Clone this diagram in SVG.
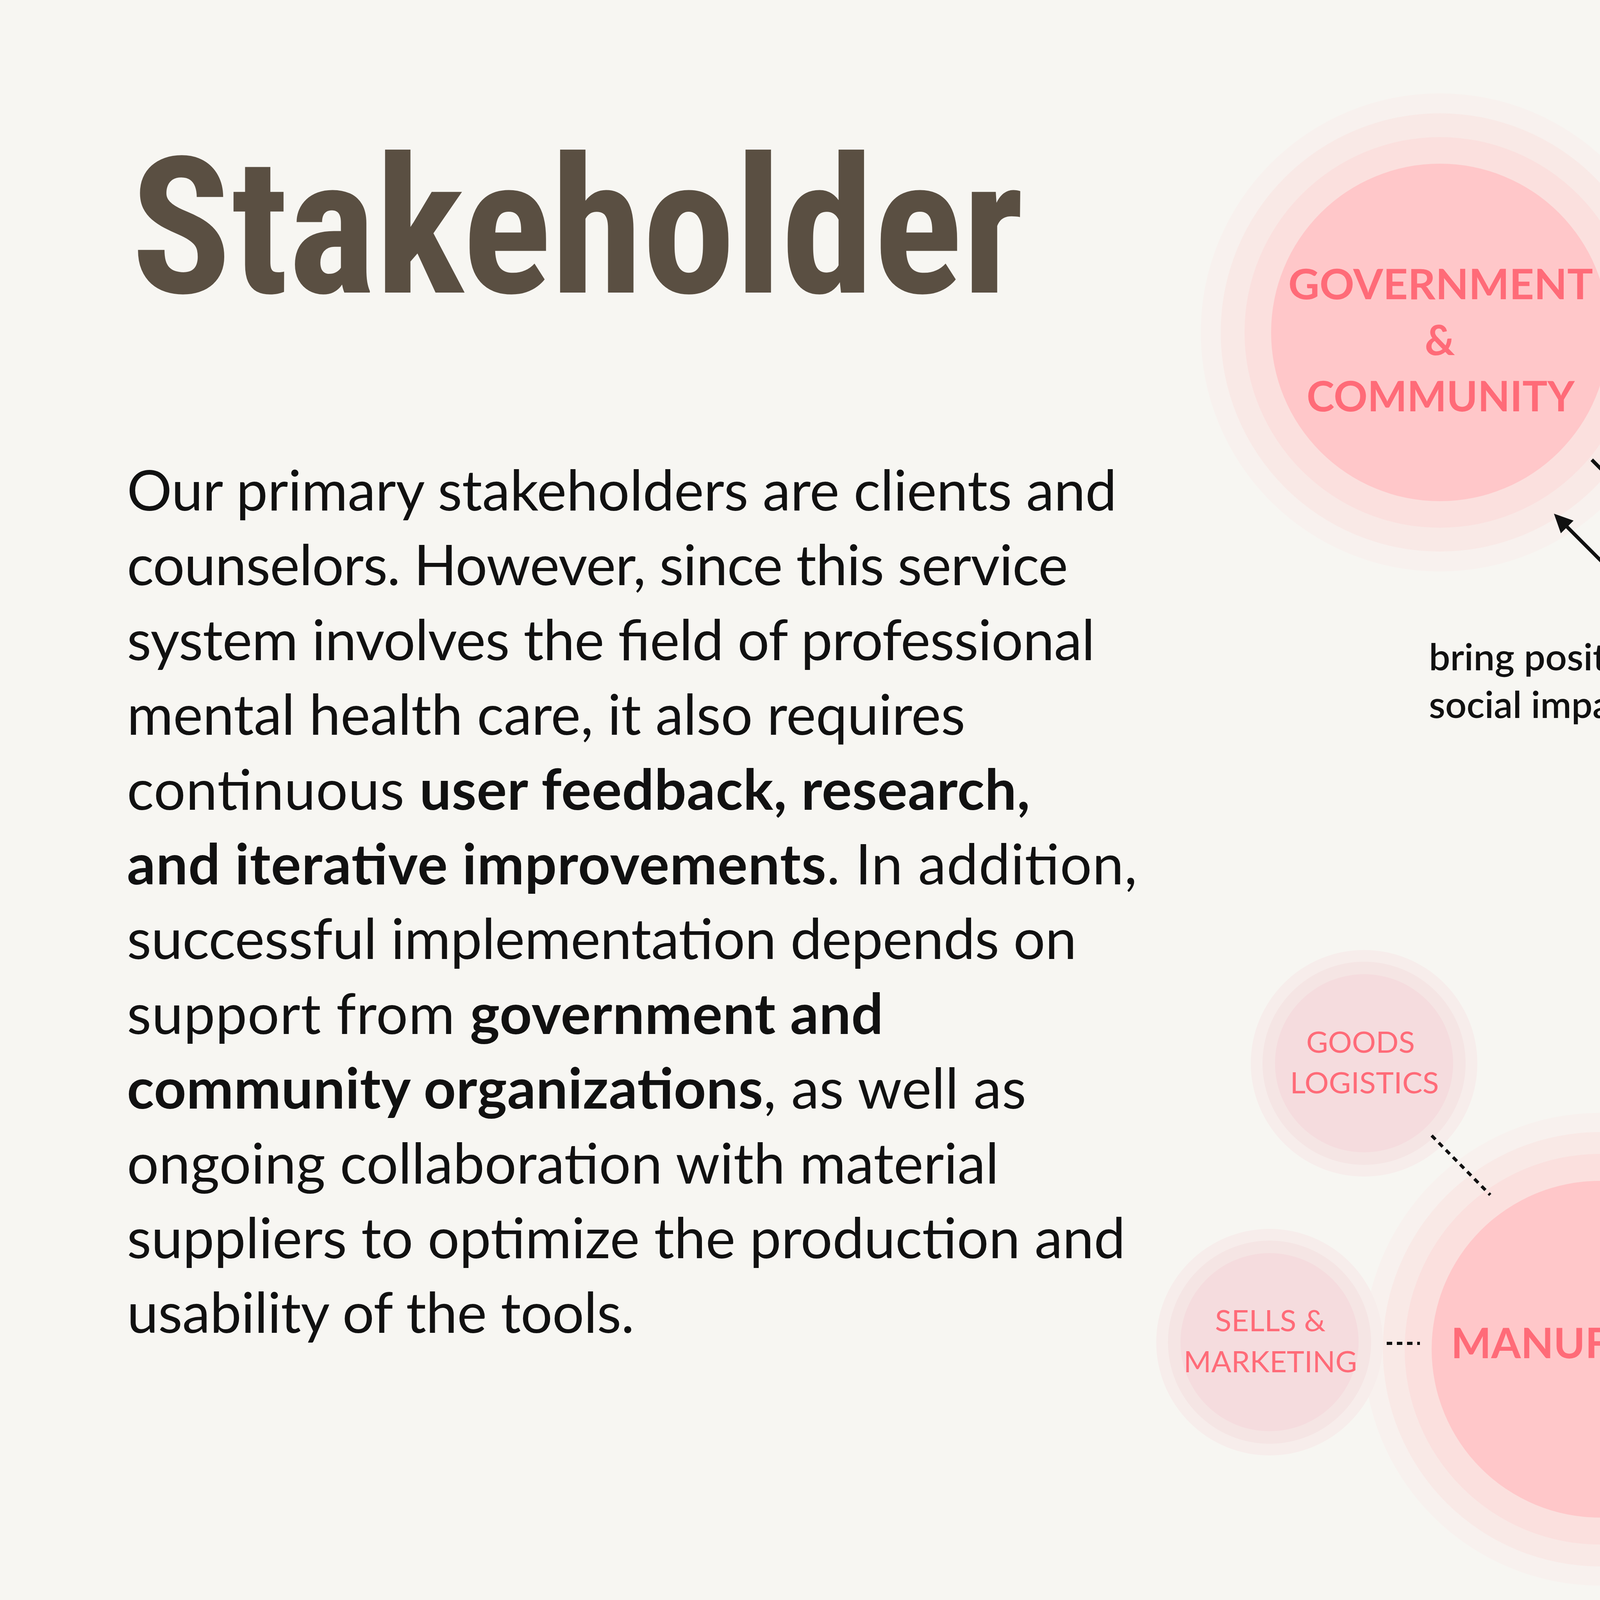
<svg xmlns="http://www.w3.org/2000/svg" width="7680" height="4320" viewBox="0 0 7680 4320">
<style>
.title{font-family:"Roboto Condensed","Roboto","Liberation Sans Narrow",sans-serif;font-weight:700;font-size:488px;fill:#5a4f42}
.body{font-family:Lato,"Noto Sans",sans-serif;font-size:144px;fill:#111111}
.body .b{font-weight:700}
.nl{font-family:Lato,"Noto Sans",sans-serif;font-weight:700;fill:#ff6b78;text-anchor:middle}
.nw{font-family:Lato,"Noto Sans",sans-serif;font-weight:700;fill:#ffffff;text-anchor:middle}
.ns{font-family:Lato,"Noto Sans",sans-serif;font-weight:400;fill:#ff6b78;text-anchor:middle;font-size:75px}
.cl{font-family:Lato,"Noto Sans",sans-serif;font-weight:600;font-size:94px;fill:#111111}
.r4{fill:#f8f1ee}.r3{fill:#f9e9e6}.r2{fill:#fbe0de}.r1{fill:#ffc7c9}
.s3{fill:#f7edeb}.s2{fill:#f5e5e4}.s1{fill:#f5dcde}
.g{fill:#ff6b78}
.conn{stroke:#111111;stroke-width:9;fill:none;marker-end:url(#ah)}
.dot{stroke:#111111;stroke-width:8;fill:none;stroke-dasharray:14 12}
</style>
<defs>
<marker id="ah" markerUnits="userSpaceOnUse" markerWidth="90" markerHeight="90" viewBox="-70 -35 90 70" refX="-14" refY="0" orient="auto">
<path d="M0,0 L-48,-23 L-48,23 Z" fill="#111111"/>
</marker>
<filter id="soft" x="-10%" y="-10%" width="120%" height="120%"><feGaussianBlur stdDeviation="6"/></filter>
</defs>
<rect x="0" y="0" width="7680" height="4320" fill="#f7f6f2"/>

<g id="title"><text class="title" x="336" y="749" textLength="2285" lengthAdjust="spacingAndGlyphs">Stakeholder</text></g>

<g id="description" class="body">
<text x="325" y="1307" textLength="2534" lengthAdjust="spacing">Our primary stakeholders are clients and</text>
<text x="325" y="1498" textLength="2409" lengthAdjust="spacing">counselors. However, since this service</text>
<text x="325" y="1690" textLength="2478" lengthAdjust="spacing">system involves the field of professional</text>
<text x="325" y="1881" textLength="2146" lengthAdjust="spacing">mental health care, it also requires</text>
<text x="325" y="2073" textLength="2312" lengthAdjust="spacing">continuous <tspan class="b">user feedback, research,</tspan></text>
<text x="325" y="2264" textLength="2586" lengthAdjust="spacing"><tspan class="b">and iterative improvements</tspan>. In addition,</text>
<text x="325" y="2455" textLength="2431" lengthAdjust="spacing">successful implementation depends on</text>
<text x="325" y="2647" textLength="1936" lengthAdjust="spacing">support from <tspan class="b">government and</tspan></text>
<text x="325" y="2838" textLength="2302" lengthAdjust="spacing"><tspan class="b">community organizations</tspan>, as well as</text>
<text x="325" y="3030" textLength="2232" lengthAdjust="spacing">ongoing collaboration with material</text>
<text x="325" y="3221" textLength="2556" lengthAdjust="spacing">suppliers to optimize the production and</text>
<text x="325" y="3412" textLength="1299" lengthAdjust="spacing">usability of the tools.</text>
</g>

<g id="government">
<circle class="r4" cx="3686" cy="851" r="612"/>
<circle class="r3" cx="3686" cy="851" r="561"/>
<circle class="r2" cx="3686" cy="851" r="500"/>
<circle class="r1" cx="3686" cy="851" r="432"/>
<text class="nl" x="3688" y="766" font-size="107" textLength="780" lengthAdjust="spacingAndGlyphs">GOVERNMENT</text>
<text class="nl" x="3686" y="909" font-size="107">&amp;</text>
<text class="nl" x="3688" y="1053" font-size="107" textLength="686" lengthAdjust="spacingAndGlyphs">COMMUNITY</text>
</g>

<g id="counseling-center">
<circle class="r4" cx="6288" cy="776" r="613"/>
<circle class="r3" cx="6288" cy="776" r="561"/>
<circle class="r2" cx="6288" cy="776" r="500"/>
<circle class="r1" cx="6288" cy="776" r="432"/>
<text class="nl" x="6288" y="743" font-size="99" textLength="704" lengthAdjust="spacingAndGlyphs">COUNSELING</text>
<text class="nl" x="6290" y="888" font-size="99" textLength="417" lengthAdjust="spacingAndGlyphs">CENTER</text>
</g>

<g id="client">
<g filter="url(#soft)">
<circle class="g" cx="5008" cy="1977" r="708" fill-opacity="0.058"/>
<circle class="g" cx="5008" cy="1977" r="674" fill-opacity="0.091"/>
<circle class="g" cx="5008" cy="1977" r="640" fill-opacity="0.126"/>
<circle class="g" cx="5008" cy="1977" r="605" fill-opacity="0.221"/>
<circle class="g" cx="5008" cy="1977" r="573" fill-opacity="0.309"/>
<circle class="g" cx="5008" cy="1977" r="542" fill-opacity="0.481"/>
<circle cx="5008" cy="1977" r="510" fill="#ff717e"/>
<circle cx="5008" cy="1977" r="478" fill="#ff6978"/>
</g>
<text class="nw" x="5013" y="2028" font-size="132" textLength="478" lengthAdjust="spacingAndGlyphs">CLIENT</text>
</g>

<g id="counselor">
<g filter="url(#soft)">
<circle class="g" cx="6017" cy="2343" r="567" fill-opacity="0.058"/>
<circle class="g" cx="6017" cy="2343" r="537" fill-opacity="0.091"/>
<circle class="g" cx="6017" cy="2343" r="510" fill-opacity="0.126"/>
<circle class="g" cx="6017" cy="2343" r="482" fill-opacity="0.221"/>
<circle class="g" cx="6017" cy="2343" r="455" fill-opacity="0.309"/>
<circle class="g" cx="6017" cy="2343" r="431" fill-opacity="0.481"/>
<circle cx="6017" cy="2343" r="406" fill="#ff6c79"/>
</g>
<text class="nw" x="6027" y="2361" font-size="121" textLength="761" lengthAdjust="spacingAndGlyphs">COUNSELOR</text>
</g>

<g id="manufactor">
<circle class="r4" cx="4096" cy="3454" r="605"/>
<circle class="r3" cx="4096" cy="3454" r="556"/>
<circle class="r2" cx="4096" cy="3454" r="500"/>
<circle class="r1" cx="4096" cy="3454" r="431"/>
<text class="nl" x="4097" y="3477" font-size="107" textLength="765" lengthAdjust="spacingAndGlyphs">MANUFACTOR</text>
</g>

<g id="goods-logistics">
<circle class="s3" cx="3492" cy="2722" r="290"/>
<circle class="s2" cx="3492" cy="2722" r="260"/>
<circle class="s1" cx="3492" cy="2722" r="228"/>
<text class="ns" x="3483" y="2695" textLength="278" lengthAdjust="spacingAndGlyphs">GOODS</text>
<text class="ns" x="3493" y="2799" textLength="381" lengthAdjust="spacingAndGlyphs">LOGISTICS</text>
</g>

<g id="sells-marketing">
<circle class="s3" cx="3250" cy="3436" r="290"/>
<circle class="s2" cx="3250" cy="3436" r="260"/>
<circle class="s1" cx="3250" cy="3436" r="228"/>
<text class="ns" x="3252" y="3408" textLength="283" lengthAdjust="spacingAndGlyphs">SELLS &amp;</text>
<text class="ns" x="3252" y="3513" textLength="444" lengthAdjust="spacingAndGlyphs">MARKETING</text>
</g>

<g id="design-team">
<circle class="s3" cx="4928" cy="3443" r="290"/>
<circle class="s2" cx="4928" cy="3443" r="260"/>
<circle class="s1" cx="4928" cy="3443" r="228"/>
<text class="ns" x="4930" y="3416" textLength="280" lengthAdjust="spacingAndGlyphs">DESIGN</text>
<text class="ns" x="4930" y="3520" textLength="209" lengthAdjust="spacingAndGlyphs">TEAM</text>
</g>

<g id="academic-institution">
<circle class="r4" cx="6607" cy="3674" r="613"/>
<circle class="r3" cx="6607" cy="3674" r="561"/>
<circle class="r2" cx="6607" cy="3674" r="501"/>
<circle class="r1" cx="6607" cy="3674" r="432"/>
<text class="nl" x="6585" y="3624" font-size="102" textLength="581" lengthAdjust="spacingAndGlyphs">ACADEMIC</text>
<text class="nl" x="6584" y="3769" font-size="102" textLength="666" lengthAdjust="spacingAndGlyphs">INSTITUTION</text>
</g>

<g id="connectors">
<line class="conn" x1="4075" y1="1177" x2="4554" y2="1659"/>
<line class="conn" x1="4530" y1="1868" x2="3988" y2="1325"/>
<line class="conn" x1="5818" y1="950" x2="5259" y2="1508"/>
<line class="conn" x1="5486" y1="1671" x2="6058" y2="1099"/>
<line class="conn" x1="4262" y1="2877" x2="4654" y2="2487"/>
<line class="conn" x1="5128" y1="2603" x2="6043" y2="3518"/>
<line class="conn" x1="5977" y1="2786" x2="6368" y2="3177"/>
<line class="conn" x1="6554" y1="3075" x2="6276" y2="2797"/>
<line class="conn" x1="5993" y1="3833" x2="4575" y2="3833"/>
<line class="dot" x1="3665" y1="2907" x2="3815" y2="3059"/>
<line class="dot" x1="3550" y1="3439" x2="3635" y2="3439"/>
<line class="dot" x1="4561" y1="3446" x2="4679" y2="3446"/>
</g>

<g id="connector-labels" class="cl">
<text x="4381" y="1351" textLength="440" lengthAdjust="spacingAndGlyphs">promotion</text>
<text x="5199" y="1067" textLength="322" lengthAdjust="spacingAndGlyphs">provide</text>
<text x="5199" y="1188" textLength="289" lengthAdjust="spacingAndGlyphs">service</text>
<text x="3658" y="1716" textLength="581" lengthAdjust="spacingAndGlyphs">bring positive</text>
<text x="3658" y="1838" textLength="548" lengthAdjust="spacingAndGlyphs">social impact</text>
<text x="5747" y="1516" textLength="429" lengthAdjust="spacingAndGlyphs">perchance</text>
<text x="4435" y="2861" textLength="603" lengthAdjust="spacingAndGlyphs">offer products</text>
<text x="4744" y="3939" textLength="1184" lengthAdjust="spacingAndGlyphs">provide design requirement</text>
<text x="5921" y="3061" text-anchor="middle" textLength="430" lengthAdjust="spacingAndGlyphs">feedbacks</text>
<text x="5922" y="3185" text-anchor="middle" textLength="319" lengthAdjust="spacingAndGlyphs">&amp; datas</text>
<text x="6680" y="2779" text-anchor="middle" textLength="452" lengthAdjust="spacingAndGlyphs">theoretical</text>
<text x="6680" y="2901" text-anchor="middle" textLength="330" lengthAdjust="spacingAndGlyphs">support</text>
</g>
</svg>
